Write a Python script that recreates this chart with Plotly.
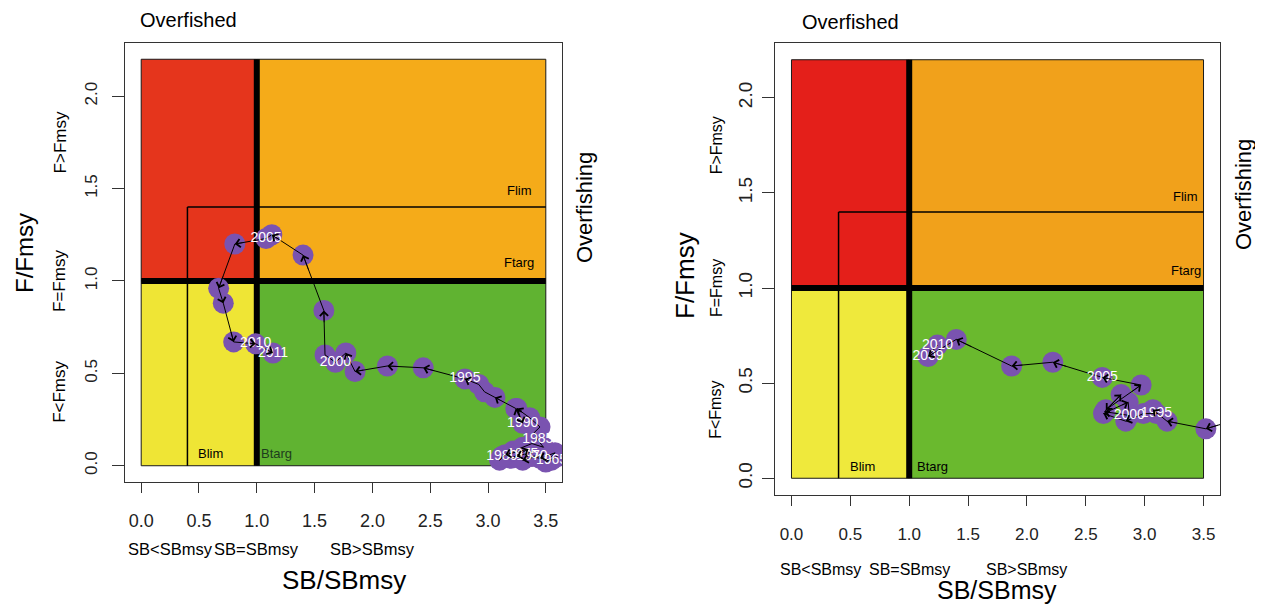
import plotly.graph_objects as go

# ---------------- data ----------------
# Left panel: SB/SBmsy and F/Fmsy trajectory, 1965-2011
years_L = list(range(1965, 2012))
sb_L = [3.55, 3.60, 3.50, 3.58, 3.45, 3.38, 3.48, 3.30, 3.40, 3.25,
        3.30, 3.20, 3.35, 3.15, 3.10, 3.12, 3.22, 3.30, 3.38, 3.48,
        3.43, 3.40, 3.45, 3.36, 3.25, 3.30, 3.24, 3.06, 2.97, 2.92,
        2.80, 2.44, 2.13, 1.85, 1.77, 1.68, 1.59, 1.58, 1.40, 1.13,
        1.08, 0.81, 0.67, 0.71, 0.80, 0.99, 1.14]
f_L = [0.03, 0.05, 0.02, 0.07, 0.04, 0.05, 0.06, 0.03, 0.08, 0.05,
       0.06, 0.04, 0.09, 0.06, 0.03, 0.05, 0.08, 0.10, 0.12, 0.10,
       0.14, 0.18, 0.21, 0.26, 0.31, 0.23, 0.31, 0.37, 0.40, 0.44,
       0.47, 0.53, 0.54, 0.51, 0.61, 0.56, 0.60, 0.84, 1.14, 1.25,
       1.23, 1.20, 0.96, 0.88, 0.67, 0.66, 0.61]
label_years_L = [1965, 1970, 1975, 1980, 1985, 1990, 1995, 2000, 2005, 2010, 2011]

# Right panel: trajectory 1991-2010
years_R = list(range(1991, 2011))
sb_R = [3.90, 3.52, 3.19, 3.07, 3.10, 2.99, 2.84, 2.65, 2.86, 2.87,
        2.66, 2.80, 2.67, 2.97, 2.64, 2.22, 1.87, 1.40, 1.16, 1.24]
f_R = [0.33, 0.26, 0.30, 0.36, 0.34, 0.34, 0.30, 0.34, 0.40, 0.33,
       0.35, 0.44, 0.36, 0.49, 0.53, 0.61, 0.59, 0.73, 0.64, 0.70]
label_years_R = [1995, 2000, 2005, 2009, 2010]

# reference points
Blim, Btarg = 0.4, 1.0
Flim, Ftarg = 1.4, 1.0
x_max, y_max = 3.5, 2.2
x_ticks = [0.0, 0.5, 1.0, 1.5, 2.0, 2.5, 3.0, 3.5]
y_ticks = [0.0, 0.5, 1.0, 1.5, 2.0]

# page body has an 8px margin -> figure is 16px smaller than the window
OFF = 8
W, H = 1263 - 2 * OFF, 612 - 2 * OFF
FONT = "Liberation Sans, Arial, sans-serif"
PURPLE = "#7a53b0"
AXC = "#333333"

def px(x):
    return (x - OFF) / W

def py(y):
    return 1 - (y - OFF) / H

fig = go.Figure()

panels = [
    dict(xa="x", ya="y", years=years_L, sb=sb_L, f=f_L, labels=label_years_L,
         colors=("#e5351c", "#f5ab19", "#efe535", "#60b331"),
         dom_x=(125, 562), dom_y=(43, 482)),
    dict(xa="x2", ya="y2", years=years_R, sb=sb_R, f=f_R, labels=label_years_R,
         colors=("#e41f1a", "#f1a11b", "#efe93c", "#6ab92e"),
         dom_x=(775, 1220), dom_y=(43, 495)),
]

shapes = []
annotations = []

for p in panels:
    xa, ya = p["xa"], p["ya"]
    red, orange, yellow, green = p["colors"]
    rects = [(0, Btarg, Ftarg, y_max, red), (Btarg, x_max, Ftarg, y_max, orange),
             (0, Btarg, 0, Ftarg, yellow), (Btarg, x_max, 0, Ftarg, green)]
    for x0, x1, y0, y1, c in rects:
        shapes.append(dict(type="rect", xref=xa, yref=ya, x0=x0, x1=x1, y0=y0, y1=y1,
                           fillcolor=c, line=dict(color="#1a1a1a", width=1), layer="below"))
    # Blim / Flim thin lines
    shapes.append(dict(type="line", xref=xa, yref=ya, x0=Blim, x1=Blim, y0=0, y1=Flim,
                       line=dict(color="black", width=1.5), layer="below"))
    shapes.append(dict(type="line", xref=xa, yref=ya, x0=Blim, x1=x_max, y0=Flim, y1=Flim,
                       line=dict(color="black", width=1.5), layer="below"))
    # thick target lines
    shapes.append(dict(type="line", xref=xa, yref=ya, x0=Btarg, x1=Btarg, y0=0, y1=y_max,
                       line=dict(color="black", width=6), layer="below"))
    shapes.append(dict(type="line", xref=xa, yref=ya, x0=0, x1=x_max, y0=Ftarg, y1=Ftarg,
                       line=dict(color="black", width=6), layer="below"))

    # points
    fig.add_trace(go.Scatter(x=p["sb"], y=p["f"], mode="markers", xaxis=xa, yaxis=ya,
                             marker=dict(size=21, color=PURPLE, line=dict(width=0)),
                             hoverinfo="skip", showlegend=False))
    # connecting path
    fig.add_trace(go.Scatter(x=p["sb"], y=p["f"], mode="lines", xaxis=xa, yaxis=ya,
                             line=dict(color="black", width=1),
                             hoverinfo="skip", showlegend=False))
    # year labels
    lx, ly, lt = [], [], []
    for yr, xv, yv in zip(p["years"], p["sb"], p["f"]):
        if yr in p["labels"]:
            lx.append(xv); ly.append(yv); lt.append(str(yr))
    fig.add_trace(go.Scatter(x=lx, y=ly, text=lt, mode="text", xaxis=xa, yaxis=ya,
                             textfont=dict(color="white", size=14, family=FONT),
                             textposition="middle center",
                             hoverinfo="skip", showlegend=False))
    # arrowheads (open chevrons) pointing along the path
    sb, f = p["sb"], p["f"]
    for i in range(1, len(sb)):
        tx = sb[i] + 0.3 * (sb[i - 1] - sb[i])
        ty = f[i] + 0.3 * (f[i - 1] - f[i])
        annotations.append(dict(x=sb[i], y=f[i], ax=tx, ay=ty, xref=xa, yref=ya,
                                axref=xa, ayref=ya, text="", showarrow=True,
                                arrowhead=4, arrowsize=2.0, arrowwidth=0.8,
                                arrowcolor="black", standoff=0))

# ---------------- texts ----------------
def txt(text, x, y, size, xref="paper", yref="paper", angle=0, color="black",
        xanchor="center", yanchor="middle"):
    annotations.append(dict(text=text, x=x, y=y, xref=xref, yref=yref, showarrow=False,
                            textangle=angle, xanchor=xanchor, yanchor=yanchor,
                            font=dict(family=FONT, size=size, color=color)))

# left panel texts
txt("Overfished", px(188), py(20), 20)
txt("Overfishing", px(585), py(208), 22, angle=-90)
txt("F/Fmsy", px(24), py(253), 24, angle=-90)
txt("F>Fmsy", px(60), 1.75, 17, yref="y", angle=-90)
txt("F=Fmsy", px(60), 1.0, 17, yref="y", angle=-90)
txt("F<Fmsy", px(60), 0.40, 17, yref="y", angle=-90)
txt("SB<SBmsy", 0.25, py(549), 16.5, xref="x")
txt("SB=SBmsy", 1.0, py(549), 16.5, xref="x")
txt("SB>SBmsy", 2.0, py(549), 16.5, xref="x")
txt("SB/SBmsy", px(344), py(580), 26)
txt("Flim", 3.27, 1.49, 13, xref="x", yref="y")
txt("Ftarg", 3.27, 1.10, 13, xref="x", yref="y")
txt("Blim", 0.6, 0.065, 13, xref="x", yref="y")
txt("Btarg", 1.17, 0.065, 13, xref="x", yref="y", color="#1d3d1d")

# right panel texts
txt("Overfished", px(851), py(22), 20)
txt("Overfishing", px(1243), py(195), 22, angle=-90)
txt("F/Fmsy", px(685), py(276), 26, angle=-90)
txt("F>Fmsy", px(716), 1.75, 16, yref="y2", angle=-90)
txt("F=Fmsy", px(716), 1.0, 16, yref="y2", angle=-90)
txt("F<Fmsy", px(716), 0.36, 16, yref="y2", angle=-90)
txt("SB<SBmsy", 0.25, py(569), 16, xref="x2")
txt("SB=SBmsy", 1.0, py(569), 16, xref="x2")
txt("SB>SBmsy", 2.0, py(569), 16, xref="x2")
txt("SB/SBmsy", px(997), py(590), 25)
txt("Flim", 3.35, 1.48, 13, xref="x2", yref="y2")
txt("Ftarg", 3.35, 1.09, 13, xref="x2", yref="y2")
txt("Blim", 0.6, 0.06, 13, xref="x2", yref="y2")
txt("Btarg", 1.2, 0.06, 13, xref="x2", yref="y2")

def xaxis_cfg(dom, size, standoff):
    return dict(domain=[px(dom[0]), px(dom[1])], range=[-0.14, 3.64],
                tickvals=x_ticks, tickformat=".1f", ticks="outside", ticklen=10,
                tickcolor=AXC, tickwidth=1, showline=True, mirror=True,
                linecolor=AXC, linewidth=1, showgrid=False, zeroline=False,
                tickfont=dict(family=FONT, size=size, color="#222"),
                ticklabelstandoff=standoff, fixedrange=True)

def yaxis_cfg(dom, size, standoff, anchor):
    return dict(domain=[py(dom[1]), py(dom[0])], range=[-0.088, 2.288],
                tickvals=y_ticks, tickformat=".1f", ticks="outside", ticklen=12,
                tickcolor=AXC, tickwidth=1, showline=True, mirror=True,
                linecolor=AXC, linewidth=1, showgrid=False, zeroline=False,
                tickangle=-90, anchor=anchor,
                tickfont=dict(family=FONT, size=size, color="#222"),
                ticklabelstandoff=standoff, fixedrange=True)

fig.update_layout(
    width=W, height=H, margin=dict(l=0, r=0, t=0, b=0),
    paper_bgcolor="white", plot_bgcolor="white",
    showlegend=False,
    xaxis=xaxis_cfg(panels[0]["dom_x"], 18, 12) | dict(anchor="y"),
    yaxis=yaxis_cfg(panels[0]["dom_y"], 17, 8, "x"),
    xaxis2=xaxis_cfg(panels[1]["dom_x"], 17, 14) | dict(anchor="y2"),
    yaxis2=yaxis_cfg(panels[1]["dom_y"], 19, 2, "x2"),
    shapes=shapes, annotations=annotations,
)

fig.write_html("out.html")
